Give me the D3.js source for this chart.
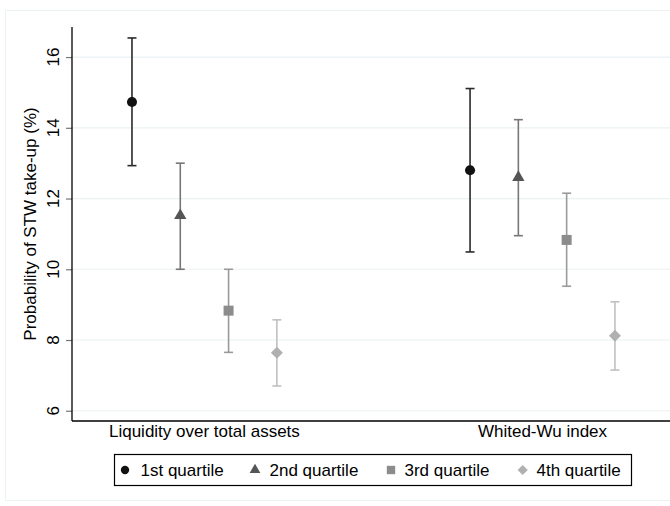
<!DOCTYPE html>
<html>
<head>
<meta charset="utf-8">
<script src="https://cdn.jsdelivr.net/npm/d3@7"></script>
<style>
  html, body { margin: 0; padding: 0; background: #fff; }
  svg { display: block; font-family: Arial, "Liberation Sans", sans-serif; }
</style>
</head>
<body>
<svg id="chart" width="670" height="506"></svg>
<script>
// ---- data ----
const groups = ["Liquidity over total assets", "Whited-Wu index"];
const quartiles = ["1st quartile", "2nd quartile", "3rd quartile", "4th quartile"];
const groupPos = [1, 8];           // base position of each group on the x scale
const estimates = [
  [14.73, 11.52, 8.83, 7.64],
  [12.80, 12.60, 10.83, 8.12]
];
const ciLow = [
  [12.93, 10.00, 7.65, 6.70],
  [10.49, 10.95, 9.52, 7.15]
];
const ciHigh = [
  [16.54, 13.00, 10.00, 8.57],
  [15.11, 14.23, 12.15, 9.08]
];
const yTicks = [6, 8, 10, 12, 14, 16];

// ---- styles ----
const markerColors = ["#111111", "#555555", "#8c8c8c", "#b0b0b0"];
const ciColors = ["#2a2a2a", "#777777", "#9a9a9a", "#c0c0c0"];
const symbols = [d3.symbolCircle, d3.symbolTriangle, d3.symbolSquare, d3.symbolSquare];
const symSizes = [80, 66, 100, 72];
const symRot = [0, 0, 0, 45];
const legSizes = [55, 50, 70, 52];

const svg = d3.select("#chart");
const pL = 72, pR = 670, pT = 27, pB = 421;

// outer graph-region border
svg.append("rect").attr("x", 5.5).attr("y", 10.5).attr("width", 700).attr("height", 490)
  .attr("fill", "none").attr("stroke", "#eaf2f3").attr("stroke-width", 1);

const x = d3.scaleLinear().domain([-0.242, 12.14]).range([pL, pR]);
const y = d3.scaleLinear().domain([5.71, 16.85]).range([pB, pT]);

// gridlines
svg.append("g").selectAll("line").data(yTicks).join("line")
  .attr("x1", pL).attr("x2", pR)
  .attr("y1", d => y(d)).attr("y2", d => y(d))
  .attr("stroke", "#eaf2f3").attr("stroke-width", 1.2);

// y axis
const yAxis = svg.append("g").attr("transform", `translate(${pL},0)`)
  .call(d3.axisLeft(y).tickValues(yTicks).tickSize(6).tickSizeOuter(0).tickFormat(d3.format("d")));
yAxis.select(".domain").remove();
yAxis.selectAll(".tick line").attr("stroke", "#777").attr("stroke-width", 1.2);
yAxis.selectAll(".tick text").remove();
svg.append("line").attr("x1", pL).attr("x2", pL).attr("y1", pT).attr("y2", pB)
  .attr("stroke", "#000").attr("stroke-width", 1.3);
svg.append("line").attr("x1", pL).attr("x2", pR).attr("y1", pB).attr("y2", pB)
  .attr("stroke", "#000").attr("stroke-width", 1.3);

// y tick labels (rotated)
svg.append("g").selectAll("text").data(yTicks).join("text")
  .attr("transform", d => `translate(59,${y(d)}) rotate(-90)`)
  .attr("text-anchor", "middle")
  .attr("font-size", 17).attr("fill", "#000")
  .text(d => d);

// y title
svg.append("text")
  .attr("transform", `translate(36,${(pT + pB) / 2}) rotate(-90)`)
  .attr("text-anchor", "middle").attr("font-size", 17).attr("fill", "#000")
  .text("Probability of STW take-up (%)");

// x group labels
svg.append("g").selectAll("text").data(groups).join("text")
  .attr("x", (d, i) => x(groupPos[i] + 1.5))
  .attr("y", 437)
  .attr("text-anchor", "middle").attr("font-size", 17).attr("fill", "#000")
  .text(d => d);

// points and CIs
const pts = [];
groups.forEach((g, gi) => {
  quartiles.forEach((q, qi) => {
    pts.push({ gi, qi, pos: groupPos[gi] + qi, est: estimates[gi][qi], lo: ciLow[gi][qi], hi: ciHigh[gi][qi] });
  });
});

const cap = 4.5;
const ci = svg.append("g");
pts.forEach(p => {
  const cx = x(p.pos);
  const col = ciColors[p.qi];
  ci.append("line").attr("x1", cx).attr("x2", cx).attr("y1", y(p.lo)).attr("y2", y(p.hi))
    .attr("stroke", col).attr("stroke-width", 1.6);
  [p.lo, p.hi].forEach(v => {
    ci.append("line").attr("x1", cx - cap).attr("x2", cx + cap).attr("y1", y(v)).attr("y2", y(v))
      .attr("stroke", col).attr("stroke-width", 1.6);
  });
});

svg.append("g").selectAll("path").data(pts).join("path")
  .attr("d", d => d3.symbol(symbols[d.qi], symSizes[d.qi])())
  .attr("transform", d => `translate(${x(d.pos)},${y(d.est)}) rotate(${symRot[d.qi]})`)
  .attr("fill", d => markerColors[d.qi]);

// legend
const leg = svg.append("g");
leg.append("rect").attr("x", 114.5).attr("y", 454.5).attr("width", 517).attr("height", 31)
  .attr("fill", "#fff").attr("stroke", "#000").attr("stroke-width", 1.2);
const legMarkX = [125, 255, 391, 522.7];
const legTextX = [140.5, 269.5, 404.5, 536.5];
quartiles.forEach((q, i) => {
  leg.append("path")
    .attr("d", d3.symbol(symbols[i], legSizes[i])())
    .attr("transform", `translate(${legMarkX[i]},${470}) rotate(${symRot[i]})`)
    .attr("fill", markerColors[i]);
  leg.append("text").attr("x", legTextX[i]).attr("y", 475.5)
    .attr("font-size", 17).attr("fill", "#000").text(q);
});
</script>
</body>
</html>
